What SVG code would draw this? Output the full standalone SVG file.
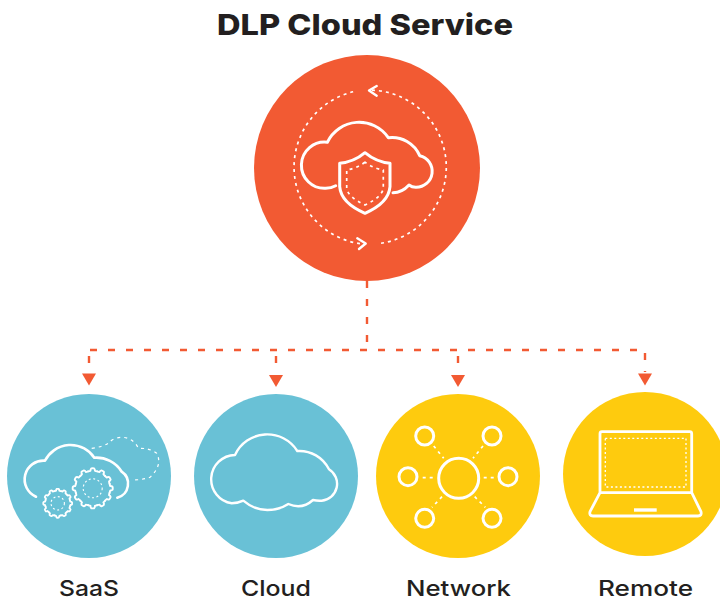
<svg xmlns="http://www.w3.org/2000/svg" xmlns:xlink="http://www.w3.org/1999/xlink" width="720" height="601" viewBox="0 0 720 601">
<style>
text{font-family:"Inter","Liberation Sans",sans-serif;fill:#231f20;text-anchor:middle}
.title{font-size:29px;font-weight:800}
.label{font-size:22px;font-weight:500}
.orange{fill:#f25a33}.blue{fill:#69c1d6}.yellow{fill:#fecb0e}
.w{fill:none;stroke:#fff;stroke-width:2.4;stroke-linecap:round;stroke-linejoin:round}
.d{fill:none;stroke:#fff;stroke-width:1.7;stroke-dasharray:3 4;stroke-linecap:butt}
.conn{fill:none;stroke:#f25a33;stroke-width:2.4;stroke-dasharray:7 11}
</style>
<defs>
<path id="tooth" d="M16.9-4.53Q17.2-2.8 17.6-2.2Q19-2.4 19.9-1.4Q20.2 0 19.9 1.4Q19 2.4 17.6 2.2Q17.2 2.8 16.9 4.53"/>
<g id="gear">
<use xlink:href="#tooth"/><use xlink:href="#tooth" transform="rotate(30)"/><use xlink:href="#tooth" transform="rotate(60)"/><use xlink:href="#tooth" transform="rotate(90)"/><use xlink:href="#tooth" transform="rotate(120)"/><use xlink:href="#tooth" transform="rotate(150)"/><use xlink:href="#tooth" transform="rotate(180)"/><use xlink:href="#tooth" transform="rotate(210)"/><use xlink:href="#tooth" transform="rotate(240)"/><use xlink:href="#tooth" transform="rotate(270)"/><use xlink:href="#tooth" transform="rotate(300)"/><use xlink:href="#tooth" transform="rotate(330)"/>
</g>
<path id="ah" d="M-7 0H7L0 12Z" fill="#f25a33"/>
</defs>
<text class="title" x="365" y="35" textLength="296" lengthAdjust="spacingAndGlyphs">DLP Cloud Service</text>

<g id="connectors">
<path class="conn" d="M367 281V345"/>
<path class="conn" d="M90 350H645"/>
<path class="conn" d="M89 356V370"/>
<path class="conn" d="M276 356V370"/>
<path class="conn" d="M458 356V370"/>
<path class="conn" d="M645 353V372"/>
<use xlink:href="#ah" x="89" y="373.500"/>
<use xlink:href="#ah" x="276" y="375"/>
<use xlink:href="#ah" x="458" y="375"/>
<use xlink:href="#ah" x="645" y="373.500"/>
</g>

<g id="dlp-cloud-service">
<circle class="orange" cx="367" cy="168" r="113"/>
<path class="d" d="M372 90.200A77 77 0 0 1 380.700 243.300"/>
<path class="d" d="M360 243.700A77.500 77.500 0 0 1 353.500 91.700"/>
<path class="w" d="M376.700 86L369 90.500L376.700 95.700"/>
<path class="w" d="M357.300 238.300L365.700 243.500L359 249"/>
<path class="w" style="stroke-width:3" d="M335.700 185.700Q331 188.300 325.700 188.300A23.100 23.100 0 1 1 327.300 142.300A35.300 35.300 0 0 1 388.300 137.700A30 30 0 0 1 419.700 155.700A16 16 0 0 1 415.700 187.300Q412 187.300 409 185Q402 192.700 393 192.700"/>
<path class="w" style="stroke-width:3" d="M365 152.700Q354 162 339.700 163.300V186.700Q341 203 365 213.300Q388.700 203 390 186.700V163.300Q376 162 365 152.700Z"/>
<path class="d" d="M365 162.300Q356 168.500 346.700 170V188.300Q348 197 365 205Q382 197 383.300 188.300V170Q374 168.500 365 162.300Z"/>
</g>

<g id="saas">
<circle class="blue" cx="89" cy="476" r="82"/>
<path class="w" style="stroke-width:2.600" d="M36 496.700A18.800 18.800 0 0 1 45 460.700A28.600 28.600 0 0 1 94.300 457.700A30 30 0 0 1 121.700 471.700A14.500 14.500 0 0 1 117.300 497.700"/>
<path class="d" style="stroke-width:1.200" d="M91.700 448.300Q102 447 108.300 443.300A18 18 0 0 1 138.300 448.300Q150 448 156.700 453.300Q163 465 150 477.300Q142 480 132.700 480"/>
<g class="w" style="stroke-width:1.900" transform="translate(92.700 488.300)"><use xlink:href="#gear"/></g>
<g class="w" style="stroke-width:2.500" transform="translate(57.700 503.300) scale(.72)"><use xlink:href="#gear"/></g>
<circle class="d" style="stroke-width:1.100;stroke-dasharray:2 2.500" cx="92.700" cy="488.300" r="9.500"/>
<circle class="d" style="stroke-width:1.100;stroke-dasharray:2 2.500" cx="57.700" cy="503.300" r="6.700"/>
</g>

<g id="cloud">
<circle class="blue" cx="276" cy="476" r="82"/>
<path class="w" d="M235 455A35.500 35.500 0 0 1 297.300 451A33 33 0 0 1 329 469.300A17 17 0 0 1 321.700 500.700Q317 501 313 500Q302 510 288.300 504Q279 510 267.300 510Q254 510 243.300 500.700Q238 503.300 231.700 503.300A24.300 24.300 0 0 1 235 455Z"/>
</g>

<g id="network">
<circle class="yellow" cx="458" cy="476" r="82"/>
<g class="w" style="stroke-width:3">
<circle cx="458.700" cy="478.300" r="20"/>
<circle cx="424.700" cy="436" r="9"/><circle cx="492" cy="436" r="9"/>
<circle cx="408" cy="476.700" r="9"/><circle cx="508" cy="476.700" r="9"/>
<circle cx="424.700" cy="518.300" r="9"/><circle cx="492" cy="518.300" r="9"/>
</g>
<path class="d" d="M433.700 446L443.700 458.300M483 446L473 458.300M422.700 477.700H433.700M483.700 477.700H495.300M442 496.700L432 507.300M474.700 496.700L485.300 507.300"/>
</g>

<g id="remote">
<circle class="yellow" cx="645" cy="474" r="82"/>
<path class="w" style="stroke-width:2.800" d="M600 492.700V433.700Q600 431.700 602 431.700H689.700Q691.700 431.700 691.700 433.700V492.700ZM600 492.700L590 511.700Q589 516 593 516H698Q702 516 701 511.700L691.700 492.700"/>
<rect class="d" style="stroke-width:1.300;stroke-dasharray:2 2.500" x="605.300" y="438.300" width="80.700" height="48.700"/>
<rect x="634" y="508.300" width="22.700" height="3.400" fill="#fff"/>
</g>

<text class="label" x="89" y="596" textLength="60" lengthAdjust="spacingAndGlyphs">SaaS</text>
<text class="label" x="276" y="596" textLength="70" lengthAdjust="spacingAndGlyphs">Cloud</text>
<text class="label" x="458.500" y="596" textLength="105" lengthAdjust="spacingAndGlyphs">Network</text>
<text class="label" x="645.500" y="596" textLength="95" lengthAdjust="spacingAndGlyphs">Remote</text>
</svg>
